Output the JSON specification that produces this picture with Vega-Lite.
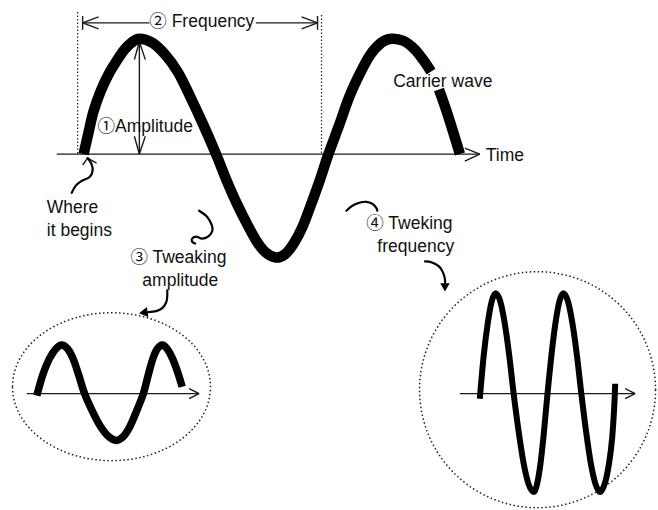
{
  "$schema": "https://vega.github.io/schema/vega-lite/v6.json",
  "width": 658,
  "height": 510,
  "autosize": {"type": "fit", "contains": "padding"},
  "padding": 0,
  "background": "white",
  "config": {"view": {"stroke": null}},
  "datasets": {
    "rings": [
      {"ring": "left", "x": 112, "y": 389},
      {"ring": "right", "x": 540, "y": 392}
    ],
    "guides": [
      {"x": 78, "y": 12, "y2": 155},
      {"x": 323, "y": 15, "y2": 155}
    ],
    "segs": [
      {"x": 57, "y": 155, "x2": 482, "y2": 155},
      {"x": 482, "y": 155, "x2": 467, "y2": 149},
      {"x": 482, "y": 155, "x2": 467, "y2": 162},
      {"x": 27, "y": 396, "x2": 200, "y2": 396},
      {"x": 200, "y": 396, "x2": 190, "y2": 391},
      {"x": 200, "y": 396, "x2": 190, "y2": 401},
      {"x": 462, "y": 396, "x2": 638, "y2": 396},
      {"x": 638, "y": 396, "x2": 628, "y2": 391},
      {"x": 638, "y": 396, "x2": 628, "y2": 401},
      {"x": 83, "y": 23, "x2": 150, "y2": 23},
      {"x": 257, "y": 23, "x2": 319, "y2": 23},
      {"x": 83, "y": 23, "x2": 99, "y2": 17},
      {"x": 83, "y": 23, "x2": 99, "y2": 29},
      {"x": 319, "y": 23, "x2": 303, "y2": 17},
      {"x": 319, "y": 23, "x2": 303, "y2": 29},
      {"x": 83, "y": 16, "x2": 83, "y2": 30},
      {"x": 319, "y": 16, "x2": 319, "y2": 30},
      {"x": 140, "y": 42, "x2": 140, "y2": 155},
      {"x": 140, "y": 42, "x2": 135, "y2": 60},
      {"x": 140, "y": 42, "x2": 146, "y2": 60},
      {"x": 140, "y": 155, "x2": 135, "y2": 137},
      {"x": 140, "y": 155, "x2": 146, "y2": 137},
      {"x": 88, "y": 159, "x2": 83, "y2": 166},
      {"x": 88, "y": 159, "x2": 97, "y2": 164}
    ],
    "main": [
      {"seg": "a", "x": 84, "y": 155}, {"seg": "a", "x": 89, "y": 133}, {"seg": "a", "x": 94, "y": 112},
      {"seg": "a", "x": 101, "y": 92}, {"seg": "a", "x": 110, "y": 73}, {"seg": "a", "x": 118, "y": 60},
      {"seg": "a", "x": 125, "y": 50}, {"seg": "a", "x": 132, "y": 43}, {"seg": "a", "x": 140, "y": 39},
      {"seg": "a", "x": 153, "y": 43}, {"seg": "a", "x": 166, "y": 55}, {"seg": "a", "x": 179, "y": 73},
      {"seg": "a", "x": 191, "y": 97}, {"seg": "a", "x": 204, "y": 125}, {"seg": "a", "x": 217, "y": 155},
      {"seg": "a", "x": 227, "y": 180}, {"seg": "a", "x": 238, "y": 205}, {"seg": "a", "x": 248, "y": 225},
      {"seg": "a", "x": 258, "y": 243}, {"seg": "a", "x": 267, "y": 254}, {"seg": "a", "x": 277, "y": 259},
      {"seg": "a", "x": 286, "y": 256}, {"seg": "a", "x": 295, "y": 245}, {"seg": "a", "x": 304, "y": 228},
      {"seg": "a", "x": 312, "y": 207}, {"seg": "a", "x": 321, "y": 182}, {"seg": "a", "x": 330, "y": 155},
      {"seg": "a", "x": 341, "y": 125}, {"seg": "a", "x": 351, "y": 97}, {"seg": "a", "x": 362, "y": 73},
      {"seg": "a", "x": 372, "y": 55}, {"seg": "a", "x": 383, "y": 43}, {"seg": "a", "x": 393, "y": 39},
      {"seg": "a", "x": 405, "y": 41}, {"seg": "a", "x": 416, "y": 49}, {"seg": "a", "x": 425, "y": 60},
      {"seg": "a", "x": 433, "y": 72},
      {"seg": "b", "x": 441, "y": 90}, {"seg": "b", "x": 448, "y": 110}, {"seg": "b", "x": 455, "y": 132},
      {"seg": "b", "x": 462, "y": 155}
    ],
    "small": [
      {"x": 37, "y": 398}, {"x": 43, "y": 377}, {"x": 49.5, "y": 361}, {"x": 56, "y": 351}, {"x": 62, "y": 347},
      {"x": 68, "y": 351}, {"x": 73.5, "y": 361}, {"x": 79, "y": 377}, {"x": 85, "y": 396}, {"x": 93, "y": 414},
      {"x": 101, "y": 429}, {"x": 109, "y": 439}, {"x": 117, "y": 443}, {"x": 124, "y": 439}, {"x": 130.5, "y": 429},
      {"x": 137, "y": 414}, {"x": 144, "y": 396}, {"x": 149, "y": 377}, {"x": 153.5, "y": 361}, {"x": 158, "y": 351},
      {"x": 163, "y": 347}, {"x": 168, "y": 351}, {"x": 173, "y": 360}, {"x": 178, "y": 373}, {"x": 183, "y": 389}
    ],
    "fast": [
      {"x": 482, "y": 401}, {"x": 486, "y": 357}, {"x": 490, "y": 325}, {"x": 494, "y": 303}, {"x": 498, "y": 295},
      {"x": 502.5, "y": 303}, {"x": 507, "y": 325}, {"x": 511.5, "y": 357}, {"x": 516, "y": 396}, {"x": 521, "y": 434},
      {"x": 526, "y": 466}, {"x": 531, "y": 487}, {"x": 536, "y": 495}, {"x": 539.5, "y": 487}, {"x": 543, "y": 466},
      {"x": 546.5, "y": 434}, {"x": 550, "y": 396}, {"x": 554, "y": 357}, {"x": 558, "y": 325}, {"x": 562, "y": 303},
      {"x": 566, "y": 295}, {"x": 570.5, "y": 303}, {"x": 575, "y": 325}, {"x": 579.5, "y": 357}, {"x": 584, "y": 396},
      {"x": 588.75, "y": 434}, {"x": 593.5, "y": 466}, {"x": 598.25, "y": 487}, {"x": 603, "y": 495}, {"x": 608, "y": 485},
      {"x": 612, "y": 465}, {"x": 615, "y": 440}, {"x": 617, "y": 410}, {"x": 618, "y": 386}
    ],
    "curls": [
      {"id": "begins", "i": 1, "x": 72, "y": 194}, {"id": "begins", "i": 2, "x": 76, "y": 187},
      {"id": "begins", "i": 3, "x": 82, "y": 182}, {"id": "begins", "i": 4, "x": 90, "y": 178},
      {"id": "begins", "i": 5, "x": 93, "y": 172}, {"id": "begins", "i": 6, "x": 92, "y": 165},
      {"id": "begins", "i": 7, "x": 88, "y": 159},
      {"id": "sq3", "i": 1, "x": 200, "y": 212}, {"id": "sq3", "i": 2, "x": 208, "y": 218},
      {"id": "sq3", "i": 3, "x": 213, "y": 227}, {"id": "sq3", "i": 4, "x": 213, "y": 233},
      {"id": "sq3", "i": 5, "x": 209, "y": 238}, {"id": "sq3", "i": 6, "x": 203, "y": 240},
      {"id": "sq3", "i": 7, "x": 197, "y": 238}, {"id": "sq3", "i": 8, "x": 193, "y": 240},
      {"id": "sq3", "i": 9, "x": 193, "y": 243}, {"id": "sq3", "i": 10, "x": 196, "y": 245},
      {"id": "ar3", "i": 1, "x": 168, "y": 292}, {"id": "ar3", "i": 2, "x": 168, "y": 298},
      {"id": "ar3", "i": 3, "x": 167, "y": 304}, {"id": "ar3", "i": 4, "x": 163, "y": 310},
      {"id": "ar3", "i": 5, "x": 157, "y": 313}, {"id": "ar3", "i": 6, "x": 149, "y": 314},
      {"id": "sq4", "i": 1, "x": 348, "y": 212}, {"id": "sq4", "i": 2, "x": 354, "y": 207},
      {"id": "sq4", "i": 3, "x": 361, "y": 204}, {"id": "sq4", "i": 4, "x": 368, "y": 203},
      {"id": "sq4", "i": 5, "x": 374, "y": 205}, {"id": "sq4", "i": 6, "x": 378, "y": 209},
      {"id": "sq4", "i": 7, "x": 379, "y": 212},
      {"id": "ar4", "i": 1, "x": 427, "y": 263}, {"id": "ar4", "i": 2, "x": 434, "y": 264},
      {"id": "ar4", "i": 3, "x": 441, "y": 268}, {"id": "ar4", "i": 4, "x": 445, "y": 274},
      {"id": "ar4", "i": 5, "x": 447, "y": 281}, {"id": "ar4", "i": 6, "x": 447, "y": 286}
    ],
    "heads": [
      {"head": "ar3", "x": 144, "y": 314.5},
      {"head": "ar4", "x": 447, "y": 289}
    ],
    "labels": [
      {"text": "② Frequency", "x": 150, "y": 22},
      {"text": "①Amplitude", "x": 98, "y": 128},
      {"text": "Carrier wave", "x": 395, "y": 82},
      {"text": "Time", "x": 488, "y": 157},
      {"text": "Where", "x": 47, "y": 209},
      {"text": "it begins", "x": 47, "y": 232},
      {"text": "③ Tweaking", "x": 131, "y": 260},
      {"text": "amplitude", "x": 143, "y": 283},
      {"text": "④ Tweking", "x": 368, "y": 225},
      {"text": "frequency", "x": 379, "y": 248}
    ]
  },
  "encoding": {
    "x": {"field": "x", "type": "quantitative", "scale": {"domain": [0, 658], "nice": false, "zero": false}, "axis": null},
    "y": {"field": "y", "type": "quantitative", "scale": {"domain": [0, 510], "reverse": true, "nice": false, "zero": false}, "axis": null}
  },
  "layer": [
    {
      "data": {"name": "rings"},
      "transform": [{"filter": "datum.ring == 'left'"}],
      "mark": {"type": "point", "shape": "M -1 0 C -1 -0.4126 -0.5523 -0.747 0 -0.747 C 0.5523 -0.747 1 -0.4126 1 0 C 1 0.4126 0.5523 0.747 0 0.747 C -0.5523 0.747 -1 0.4126 -1 0 Z", "size": 39204, "filled": false, "stroke": "#222", "strokeWidth": 1.5, "strokeDash": [1.5, 2.5], "opacity": 1}
    },
    {
      "data": {"name": "rings"},
      "transform": [{"filter": "datum.ring == 'right'"}],
      "mark": {"type": "point", "shape": "circle", "size": 55696, "filled": false, "stroke": "#222", "strokeWidth": 1.5, "strokeDash": [1.5, 2.5], "opacity": 1}
    },
    {
      "data": {"name": "guides"},
      "mark": {"type": "rule", "stroke": "#333", "strokeWidth": 1.3, "strokeDash": [1.5, 2]},
      "encoding": {"y2": {"field": "y2"}}
    },
    {
      "data": {"name": "segs"},
      "mark": {"type": "rule", "stroke": "#1a1a1a", "strokeWidth": 1.4},
      "encoding": {"x2": {"field": "x2"}, "y2": {"field": "y2"}}
    },
    {
      "data": {"name": "main"},
      "mark": {"type": "line", "stroke": "#000", "strokeWidth": 10.5, "strokeCap": "butt", "strokeJoin": "round", "interpolate": "cardinal"},
      "encoding": {"detail": {"field": "seg"}}
    },
    {
      "data": {"name": "small"},
      "mark": {"type": "line", "stroke": "#000", "strokeWidth": 7.5, "strokeCap": "butt", "strokeJoin": "round", "interpolate": "cardinal"},
      "encoding": {}
    },
    {
      "data": {"name": "fast"},
      "mark": {"type": "line", "stroke": "#000", "strokeWidth": 6, "strokeCap": "butt", "strokeJoin": "round", "interpolate": "cardinal"},
      "encoding": {}
    },
    {
      "data": {"name": "curls"},
      "mark": {"type": "line", "stroke": "#000", "strokeWidth": 2.2, "strokeCap": "round", "interpolate": "cardinal"},
      "encoding": {"detail": {"field": "id"}, "order": {"field": "i", "type": "quantitative"}}
    },
    {
      "data": {"name": "heads"},
      "transform": [{"filter": "datum.head == 'ar3'"}],
      "mark": {"type": "point", "shape": "triangle-left", "size": 100, "filled": true, "fill": "#000", "opacity": 1, "angle": 352}
    },
    {
      "data": {"name": "heads"},
      "transform": [{"filter": "datum.head == 'ar4'"}],
      "mark": {"type": "point", "shape": "triangle-down", "size": 90, "filled": true, "fill": "#000", "opacity": 1}
    },
    {
      "data": {"name": "labels"},
      "mark": {"type": "text", "align": "left", "baseline": "middle", "fontSize": 17.5, "font": "Liberation Sans, Noto Sans CJK JP, sans-serif", "fill": "#111"},
      "encoding": {"text": {"field": "text"}}
    }
  ]
}
